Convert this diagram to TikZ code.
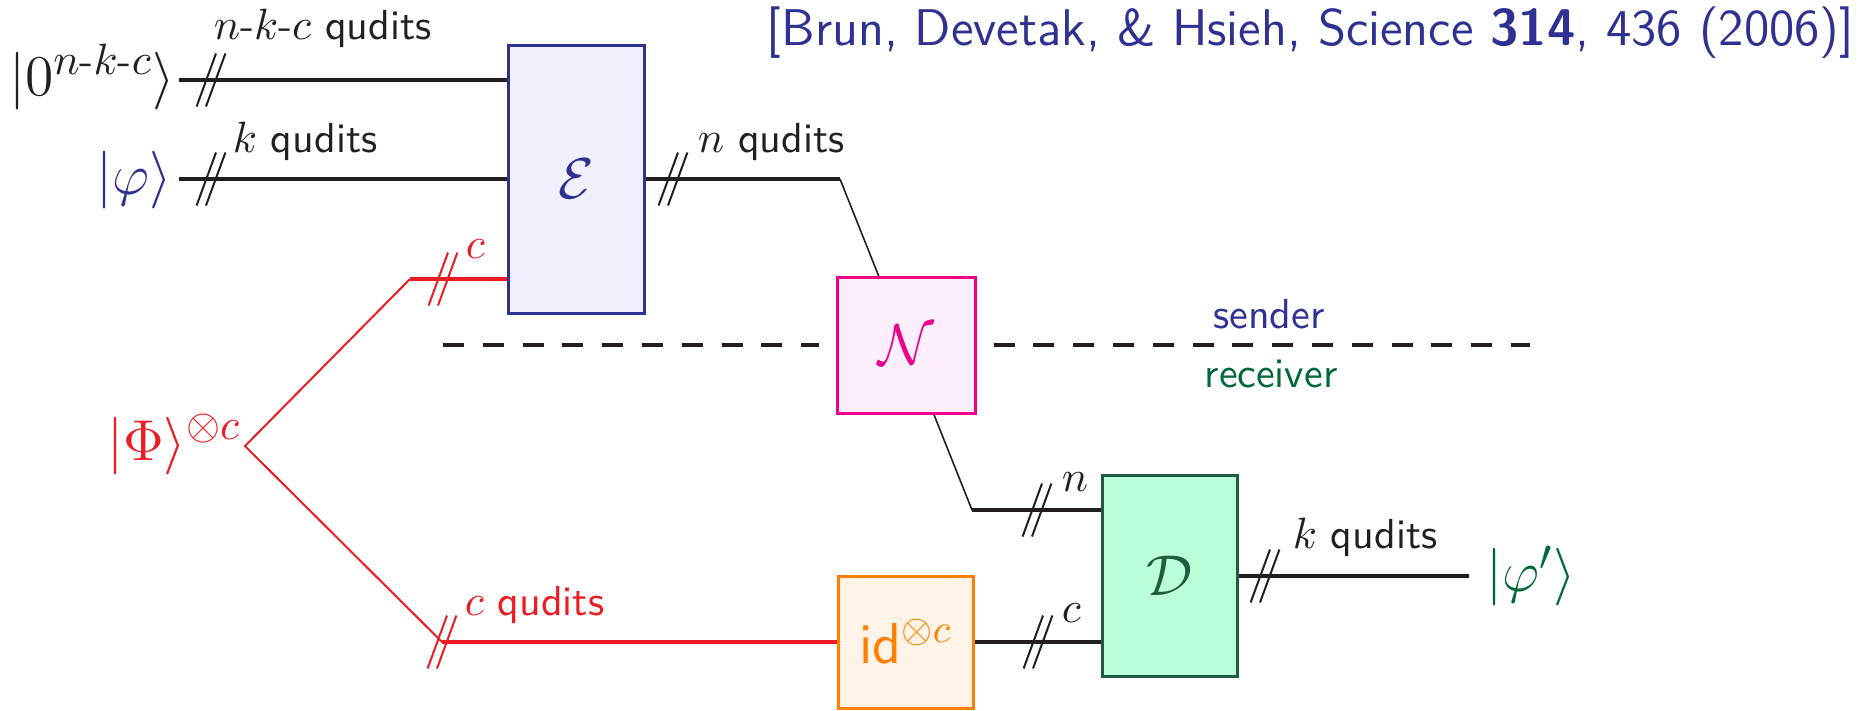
\documentclass[tikz,border=0pt]{standalone}
\usepackage{amsmath}
\usetikzlibrary{backgrounds,calc}
\definecolor{cblue}{RGB}{46,49,146}
\definecolor{efill}{RGB}{240,240,252}
\definecolor{cred}{RGB}{237,28,36}
\definecolor{cmag}{RGB}{236,0,140}
\definecolor{nfill}{RGB}{253,238,252}
\definecolor{corange}{RGB}{255,127,0}
\definecolor{idfill}{RGB}{255,242,230}
\definecolor{dborder}{RGB}{30,92,62}
\definecolor{dfill}{RGB}{187,255,217}
\definecolor{cgreen}{RGB}{0,104,55}
\definecolor{cblack}{RGB}{35,31,32}
\begin{document}
\begin{tikzpicture}[x=0.25pt,y=-0.25pt,
  lab/.style={inner sep=0pt,font=\fontsize{10.5}{12}\selectfont\sffamily},
  ket/.style={inner sep=0pt,font=\fontsize{15}{18}\selectfont},
  box/.style={draw,line width=0.75pt,inner sep=0pt,font=\fontsize{14.4}{17}\selectfont},
  wire/.style={line width=0.8pt,draw=cblack},
  thinwire/.style={line width=0.4pt,draw=cblack},
  redwire/.style={line width=0.8pt,draw=cred},
  reddiag/.style={line width=0.5pt,draw=cred},
  dashline/.style={line width=0.8pt,draw=cblack,dash pattern=on 5.25pt off 4.7pt},
  slashes/.pic={\draw[line width=0.5pt] (-14.4,26.5) -- (5,-26.5) (-5,26.5) -- (14.4,-26.5);}
]
\useasboundingbox (0,0) rectangle (1876,710);

% title
\node[anchor=base east,inner sep=0pt,text=cblue,font=\fontsize{12.9}{15}\selectfont\sffamily] (title) at (1855,45) {[Brun, Devetak, \& Hsieh, Science \textbf{314}, 436 (2006)]};

% boxes
\node[box,draw=cblue,fill=efill,text=cblue,minimum width=34pt,minimum height=67pt] (E) at (576,179) {$\mathcal{E}$};
\node[box,draw=cmag,fill=nfill,text=cmag,minimum width=34.5pt,minimum height=34pt] (N) at (906,345) {$\mathcal{N}$};
\node[box,draw=dborder,fill=dfill,text=dborder,minimum width=33.75pt,minimum height=50.25pt] (D) at (1170,576) {$\mathcal{D}$};
\node[box,draw=corange,fill=idfill,text=corange,minimum width=33.75pt,minimum height=33pt] (id) at (906,642) {\sffamily id$^{\otimes c}$};

% kets
\node[ket,anchor=base east,text=cblack] (k0) at (176,95) {$|0^{n\text{-}k\text{-}c}\rangle$};
\node[ket,anchor=base east,text=cblue] (kphi) at (173,194) {$|\varphi\rangle$};
\node[ket,anchor=base east,text=cred] (kPhi) at (242,460) {$|\Phi\rangle^{\otimes c}$};
\node[ket,anchor=base west,text=cgreen] (kout) at (1486,591) {$|\varphi'\rangle$};

% coordinates
\coordinate (in1) at (179,80);
\coordinate (in2) at (179,179);
\coordinate (fork) at (245,446);
\coordinate (rt) at (410,279);
\coordinate (rb) at (442,642);
\coordinate (nc1) at (840,179);
\coordinate (nc2) at (972,510);
\coordinate (out) at (1469,576);
\coordinate (dashL) at (443,345);
\coordinate (dashR) at (1530,345);

% wires
\draw[wire] (in1) -- (in1 -| E.west);
\draw[wire] (in2) -- (in2 -| E.west);
\draw[redwire] (rt) -- (rt -| E.west);
\draw[reddiag] (rt) -- (fork) -- (rb);
\draw[redwire] (rb) -- (id.west);
\draw[wire] (E.east) -- (nc1);
\begin{pgfonlayer}{background}
\draw[thinwire] (nc1) -- (nc2);
\end{pgfonlayer}
\draw[wire] (nc2) -- (nc2 -| D.west);
\draw[wire] (id.east) -- (id.east -| D.west);
\draw[wire] (D.east) -- (out);
\draw[dashline] (dashL) -- ($(N.west)+(-17,0)$);
\draw[dashline] ($(N.east)+(17,0)$) -- (dashR);

% slashes
\pic[cblack] at (211,80) {slashes};
\pic[cblack] at (211,179) {slashes};
\pic[cred] at (443,279) {slashes};
\pic[cred] at (442,642) {slashes};
\pic[cblack] at (673,179) {slashes};
\pic[cblack] at (1037,510) {slashes};
\pic[cblack] at (1038,642) {slashes};
\pic[cblack] at (1265,576) {slashes};

% labels
\node[lab,anchor=base west,text=cblack] (l1) at (213,39) {$n$-$k$-$c$ qudits};
\node[lab,anchor=base west,text=cblack] (l2) at (232,152) {$k$ qudits};
\node[lab,anchor=base west,text=cred] (l3) at (465,258) {$c$};
\node[lab,anchor=base west,text=cred] (l4) at (464,615) {$c$ qudits};
\node[lab,anchor=base west,text=cblack] (l5) at (697,152) {$n$ qudits};
\node[lab,anchor=base west,text=cblack] (l6) at (1061,491) {$n$};
\node[lab,anchor=base west,text=cblack] (l7) at (1061,622) {$c$};
\node[lab,anchor=base west,text=cblack] (l8) at (1292,548) {$k$ qudits};
\node[lab,anchor=base,text=cblue] (snd) at (1269,328) {sender};
\node[lab,anchor=base,text=cgreen] (rcv) at (1271,387) {receiver};
\end{tikzpicture}
\end{document}
